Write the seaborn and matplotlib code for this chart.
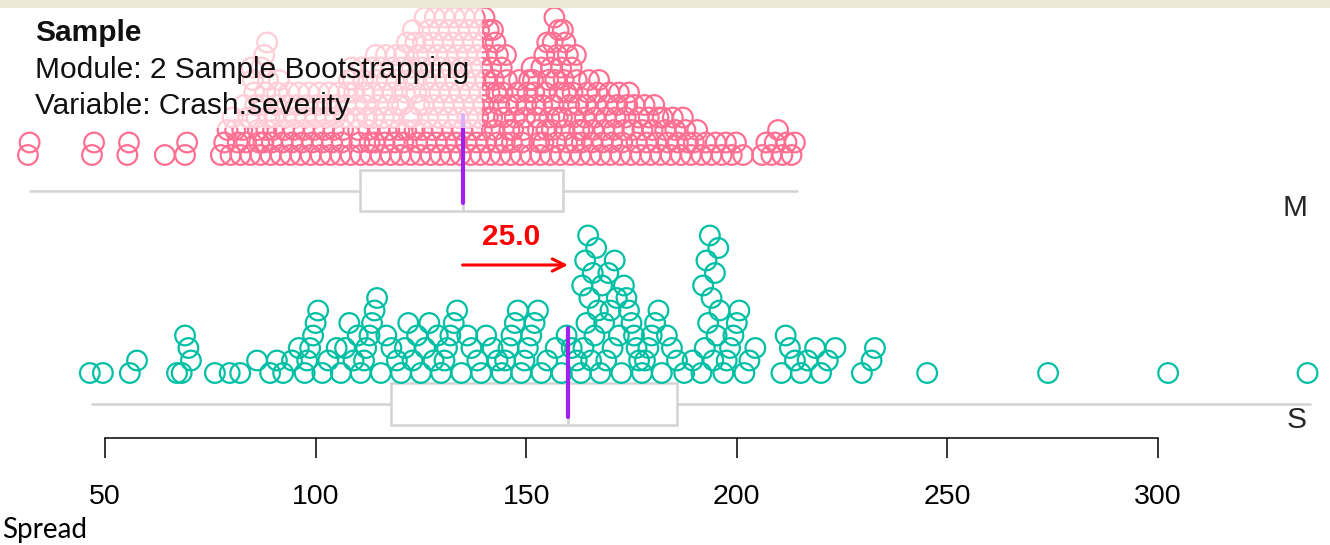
import numpy as np
import pandas as pd
import matplotlib
matplotlib.use("Agg")
import matplotlib.pyplot as plt
from matplotlib.patches import Rectangle
import seaborn as sns

# ---------------- data ----------------
groups = ["M", "S"]

M_values = [
    31.7, 32.1, 46.9, 47.4, 55.3, 55.7, 64.2, 69.0, 69.5,
    77.5, 78.3, 79.1,
    79.8, 80.3, 80.9, 81.5,
    82.2, 82.6, 83.0, 83.5, 84.0,
    84.5, 84.8, 85.1, 85.4, 85.7, 86.0, 86.3, 86.6,
    86.9, 87.1, 87.3, 87.6, 87.8, 88.0, 88.3, 88.5, 88.7, 89.0,
    89.3, 89.6, 89.9, 90.2, 90.6, 90.9, 91.3,
    91.7, 92.1, 92.5, 92.9, 93.3, 93.7,
    94.0, 94.4, 94.8, 95.2, 95.6, 96.0,
    96.4, 96.8, 97.2, 97.6, 98.0, 98.4,
    98.8, 99.2, 99.6, 100.0, 100.4, 100.8,
    101.2, 101.6, 102.0, 102.4, 102.8, 103.2,
    103.5, 103.9, 104.3, 104.7, 105.1, 105.5,
    105.9, 106.2, 106.5, 106.8, 107.2, 107.6, 107.9,
    108.3, 108.6, 108.9, 109.2, 109.5, 109.8, 110.1, 110.4,
    110.7, 111.0, 111.3, 111.6, 111.9, 112.2, 112.5, 112.8,
    113.0, 113.3, 113.5, 113.8, 114.0, 114.3, 114.5, 114.8, 115.1,
    115.4, 115.7, 115.9, 116.2, 116.4, 116.7, 116.9, 117.2, 117.5,
    117.8, 118.1, 118.3, 118.6, 118.8, 119.1, 119.3, 119.6, 119.9,
    120.1, 120.3, 120.5, 120.8, 121.0, 121.2, 121.5, 121.7, 122.0, 122.2,
    122.5, 122.7, 122.9, 123.1, 123.3, 123.5, 123.7, 123.9, 124.1, 124.3, 124.6,
    124.9, 125.1, 125.3, 125.5, 125.7, 125.9, 126.1, 126.3, 126.5, 126.7, 126.9, 127.1,
    127.3, 127.5, 127.7, 127.9, 128.1, 128.3, 128.5, 128.7, 128.9, 129.1, 129.3, 129.4,
    129.6, 129.8, 130.0, 130.2, 130.4, 130.6, 130.8, 131.0, 131.2, 131.4, 131.6, 131.8,
    132.0, 132.2, 132.4, 132.6, 132.8, 133.0, 133.2, 133.4, 133.6, 133.8, 134.0, 134.2,
    134.4, 134.6, 134.8, 135.0, 135.2, 135.4, 135.6, 135.8, 136.0, 136.2, 136.4, 136.6,
    136.8, 137.0, 137.2, 137.4, 137.6, 137.8, 138.0, 138.2, 138.4, 138.6, 138.8, 138.9,
    139.1, 139.3, 139.5, 139.7, 139.9, 140.1, 140.3, 140.5, 140.7, 140.9, 141.1, 141.3,
    141.5, 141.7, 141.9, 142.1, 142.3, 142.5, 142.7, 142.9, 143.1, 143.3, 143.6,
    143.9, 144.2, 144.4, 144.7, 144.9, 145.2, 145.4, 145.7, 146.0,
    146.3, 146.6, 146.9, 147.3, 147.6, 147.9, 148.3,
    148.7, 149.0, 149.3, 149.7, 150.0, 150.3, 150.7,
    151.0, 151.3, 151.6, 151.9, 152.2, 152.5, 152.8, 153.1,
    153.4, 153.6, 153.8, 154.1, 154.3, 154.5, 154.8, 155.0, 155.2, 155.5,
    155.7, 155.9, 156.1, 156.3, 156.5, 156.7, 156.9, 157.1, 157.3, 157.5, 157.7, 157.9,
    158.1, 158.3, 158.5, 158.7, 158.9, 159.1, 159.3, 159.5, 159.7, 159.9, 160.2,
    160.5, 160.8, 161.0, 161.3, 161.5, 161.8, 162.0, 162.3, 162.6,
    162.9, 163.2, 163.5, 163.9, 164.2, 164.5, 164.9,
    165.3, 165.6, 165.9, 166.3, 166.6, 166.9, 167.3,
    167.7, 168.1, 168.5, 168.9, 169.3, 169.7,
    170.0, 170.4, 170.8, 171.2, 171.6, 172.0,
    172.4, 172.8, 173.2, 173.6, 174.0, 174.4,
    174.8, 175.2, 175.7, 176.2, 176.7,
    177.2, 177.6, 178.1, 178.6, 179.1,
    179.5, 180.0, 180.4, 180.9, 181.4,
    181.9, 182.4, 183.0, 183.6,
    184.3, 184.8, 185.4, 186.0,
    186.7, 187.2, 187.8, 188.4,
    189.1, 189.8, 190.6,
    191.6, 192.6, 194.0, 195.0, 196.4, 197.4, 198.8, 199.8,
    201.5,
    206.0, 207.0, 208.2, 209.0, 209.8,
    210.8, 211.8, 213.0, 213.8,
]

S_values = [
    46.4, 49.5, 55.9, 57.6,
    67.1, 68.2, 69.0, 69.8, 70.4,
    76.1, 79.6, 82.1,
    86.1, 89.2, 90.8,
    92.3, 94.4, 96.0,
    97.4, 98.0, 98.7, 99.4, 100.0, 100.6,
    101.6, 103.0, 105.0,
    106.0, 107.0, 108.0, 109.0, 110.0,
    110.7, 111.5, 112.0, 112.8, 113.4, 114.0, 114.6,
    115.5, 116.8, 118.0, 119.3,
    120.3, 121.2, 122.0, 123.0, 124.1,
    125.0, 126.0, 127.0, 128.0, 129.0,
    129.8, 130.6, 131.2, 132.0, 132.8, 133.6,
    134.6, 136.0, 137.0, 138.4,
    139.3, 140.5, 142.0, 143.2,
    144.2, 145.0, 145.8, 146.5, 147.3, 148.0,
    148.8, 149.6, 150.4, 151.2, 152.0, 152.8,
    153.6, 155.0, 157.0,
    158.4, 159.6, 160.8, 162.0,
    163.0, 163.3, 163.6, 164.0, 164.3, 164.7, 165.0, 165.4, 165.8, 166.2, 166.6, 167.0,
    167.6, 168.0, 168.5, 169.0, 169.5, 170.0, 170.5, 171.0, 171.5, 172.0,
    172.6, 173.2, 173.8, 174.4, 175.0, 175.6, 176.2, 176.8,
    177.5, 178.2, 179.0, 179.8, 180.6, 181.4,
    182.2, 183.4, 184.6, 185.8,
    187.5, 189.5,
    191.6, 192.0, 192.4, 192.8, 193.2, 193.6, 194.0, 194.4, 194.8, 195.2, 195.6, 195.9,
    196.8, 197.6, 198.4, 199.2, 200.0, 200.6,
    201.8, 203.0, 204.4,
    210.6, 211.6, 212.6, 213.8,
    215.2, 216.8, 218.6,
    220.0, 221.6, 223.4,
    229.7, 232.0, 232.8,
    245.2, 273.9, 302.4, 335.5,
]

# box summaries: whisker low, Q1, median, Q3, whisker high
M_box = [32.2, 110.5, 134.9, 158.7, 214.3]
S_box = [46.9, 117.9, 159.9, 185.8, 336.1]

x_ticks = [50, 100, 150, 200, 250, 300]
title_lines = ["Sample", "Module: 2 Sample Bootstrapping", "Variable: Crash.severity"]
footer_label = "Spread"

# ---------------- styling / layout ----------------
sns.set_theme(style="white")
plt.rcParams["font.family"] = ["Liberation Sans", "DejaVu Sans"]

W, H = 1330, 545
PX_PER_UNIT = 4.212
X_LEFT = 50 - 105 / PX_PER_UNIT
X_RIGHT = 50 + (W - 105) / PX_PER_UNIT
STEP = 12.5                # vertical stacking step (pixels)
FS = 21.5

COL_M = "#FF6F91"
COL_S = "#00BFA4"
BOX_COL = "#D3D3D3"
MED_COL = "#A020F0"

fig = plt.figure(figsize=(W / 100, H / 100), dpi=100)
fig.patch.set_facecolor("white")
ax = fig.add_axes([0, 0, 1, 1])
ax.set_xlim(X_LEFT, X_RIGHT)
ax.set_ylim(H, 0)
ax.axis("off")


def stack(values, base, bin_px):
    width = bin_px / PX_PER_UNIT
    vals = np.asarray(values, dtype=float)
    bins = np.floor((vals - X_LEFT) / width + 1e-9).astype(int)
    xs, ys = [], []
    for b in np.unique(bins):
        v = np.sort(vals[bins == b])
        n = len(v)
        idx = sorted(range(n), key=lambda i: ((i * 7) % n) if n > 2 else i)
        for k, i in enumerate(idx):
            xs.append(v[i])
            ys.append(base - k * STEP)
    return pd.DataFrame({"value": xs, "y": ys})


layout = {
    "M": dict(values=M_values, box=M_box, base=155, box_c=190.5, box_h=41,
              color=COL_M, bin_px=10),
    "S": dict(values=S_values, box=S_box, base=373, box_c=404, box_h=42,
              color=COL_S, bin_px=20),
}

for g in groups:
    L = layout[g]
    df = stack(L["values"], L["base"], L["bin_px"])
    sns.scatterplot(data=df, x="value", y="y", ax=ax, s=200,
                    facecolor="none", edgecolor=L["color"], linewidth=1.6,
                    legend=False, zorder=3)
    lo, q1, med, q3, hi = L["box"]
    stats = [dict(whislo=lo, q1=q1, med=med, q3=q3, whishi=hi, fliers=[])]
    ax.bxp(stats, positions=[L["box_c"]], widths=L["box_h"], vert=False,
           showcaps=False, showfliers=False, patch_artist=True,
           boxprops=dict(facecolor="white", edgecolor=BOX_COL, linewidth=1.8),
           whiskerprops=dict(color=BOX_COL, linewidth=1.8),
           medianprops=dict(color=BOX_COL, linewidth=1.8), zorder=2)
    top = L["box_c"] - L["box_h"] / 2 - 55
    bot = L["box_c"] + L["box_h"] / 2 - 8
    ax.plot([med, med], [top, bot], color=MED_COL, lw=3.0,
            solid_capstyle="round", zorder=4)

ax.set_xlim(X_LEFT, X_RIGHT)
ax.set_ylim(H, 0)

# translucent panel behind the title text
ax.add_patch(Rectangle((0, 1 - 128 / H), 482 / W, 120 / H, transform=fig.transFigure,
                       facecolor="white", alpha=0.65, edgecolor="none", zorder=5))

# difference arrow
m_med, s_med = M_box[2], S_box[2]
ax.annotate("", xy=(s_med, 265), xytext=(m_med, 265),
            arrowprops=dict(arrowstyle="->", color="red", lw=2.2,
                            mutation_scale=22, shrinkA=0, shrinkB=0), zorder=6)
ax.text((m_med + s_med) / 2 - 1, 237, f"{s_med - m_med:.1f}", color="red",
        fontsize=FS, fontweight="bold", ha="center", va="center", zorder=6)

# titles
fig.text(35 / W, 1 - 33 / H, title_lines[0], fontsize=FS, fontweight="bold",
         ha="left", va="center", color="#111111", zorder=7)
fig.text(35 / W, 1 - 70 / H, title_lines[1], fontsize=FS,
         ha="left", va="center", color="#111111", zorder=7)
fig.text(35 / W, 1 - 106 / H, title_lines[2], fontsize=FS,
         ha="left", va="center", color="#111111", zorder=7)

# group labels
fig.text(1295 / W, 1 - 208 / H, groups[0], fontsize=FS, ha="center", va="center")
fig.text(1297 / W, 1 - 420 / H, groups[1], fontsize=FS, ha="center", va="center")

# x axis
axx = fig.add_axes([0, 1 - 438 / H, 1, 0.001])
axx.set_xlim(X_LEFT, X_RIGHT)
axx.patch.set_alpha(0)
for sp in ["top", "left", "right"]:
    axx.spines[sp].set_visible(False)
axx.spines["bottom"].set_visible(True)
axx.spines["bottom"].set_color("black")
axx.spines["bottom"].set_linewidth(1.1)
axx.spines["bottom"].set_bounds(x_ticks[0], x_ticks[-1])
axx.set_yticks([])
axx.set_xticks(x_ticks)
axx.set_xticklabels([str(t) for t in x_ticks])
axx.tick_params(axis="x", direction="out", length=14.4, width=1.1, pad=19,
                labelsize=20.5, colors="black", bottom=True)

# footer
fig.text(2 / W, 1 - 530 / H, footer_label, fontsize=20, family=["Lato", "DejaVu Sans"],
         ha="left", va="center", color="black")

# top beige strip
fig.patches.append(Rectangle((0, 1 - 8 / H), 1, 8 / H, transform=fig.transFigure,
                             facecolor="#ECE9D8", edgecolor="none", zorder=10))

fig.savefig("out.png", dpi=100)
